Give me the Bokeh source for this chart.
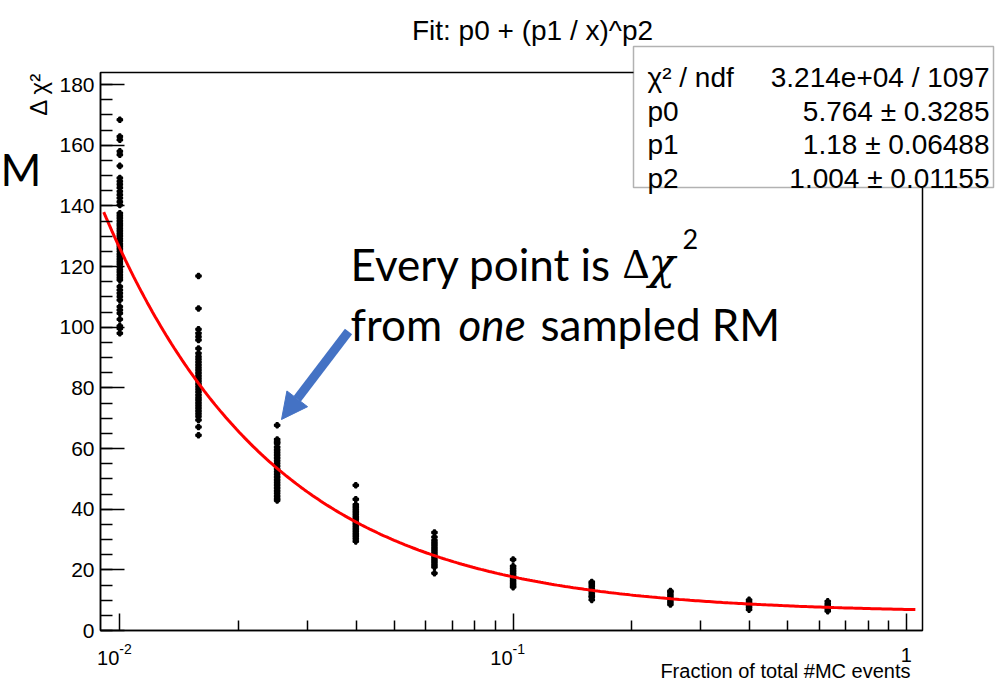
import math
import numpy as np
from bokeh.plotting import figure
from bokeh.layouts import column
from bokeh.models import (Range1d, FixedTicker, SingleIntervalTicker, Label, BoxAnnotation,
                          Arrow, NormalHead, CustomJSTickFormatter, GridBox)
from bokeh.embed import file_html
from bokeh.resources import INLINE

# ---------------- data ----------------
fractions = [0.01, 0.01585, 0.02512, 0.03981, 0.06310, 0.1, 0.1585, 0.2512, 0.3981, 0.6310]

dchi2_f0010 = [168.4, 162.9, 161.8, 158.0, 156.9, 153.2, 149.2, 148.1, 147.1, 146.0, 144.8, 143.7,
               142.6, 141.4, 140.3, 137.6, 136.8, 136.0, 135.1, 134.2, 133.5, 132.6, 131.8, 130.9,
               130.1, 129.2, 128.4, 127.5, 126.7, 125.9, 125.0, 124.1, 123.3, 122.4, 121.6, 120.8,
               119.9, 119.0, 118.2, 117.3, 116.4, 115.6, 113.4, 112.3, 111.2, 110.1, 109.0, 106.8,
               105.7, 104.6, 102.6, 100.4, 99.6, 98.0]
dchi2_f0016 = [116.9, 106.2, 99.3, 98.0, 96.9, 95.8, 93.0, 91.4, 90.3, 89.4, 88.5, 87.6, 86.7, 85.8,
               84.9, 84.0, 83.1, 82.2, 81.3, 80.4, 79.5, 78.6, 77.7, 76.8, 76.0, 75.1, 74.2, 73.3,
               72.4, 71.5, 70.6, 69.4, 67.1, 64.4]
dchi2_f0025 = [67.7, 63.0, 62.2, 61.7, 60.5, 59.6, 58.7, 57.8, 56.9, 56.0, 55.1, 54.2, 53.3, 52.4,
               51.5, 50.6, 49.7, 48.8, 47.9, 47.0, 46.1, 45.2, 44.3, 43.5, 42.9]
dchi2_f0040 = [47.9, 43.3, 41.5, 40.7, 39.9, 39.1, 38.3, 37.5, 36.7, 35.9, 35.1, 34.3, 33.5, 32.7,
               31.9, 31.1, 30.3, 29.4]
dchi2_f0063 = [32.3, 30.8, 29.7, 28.9, 28.1, 27.3, 26.5, 25.7, 24.9, 24.1, 23.3, 22.5, 21.7, 20.9, 18.9]
dchi2_f0100 = [23.4, 21.2, 20.4, 19.6, 18.8, 18.0, 17.2, 16.4, 15.6, 14.9, 14.3]
dchi2_f0158 = [16.0, 15.4, 14.6, 13.8, 13.0, 12.2, 11.4, 11.0, 10.1]
dchi2_f0251 = [13.0, 12.6, 11.8, 11.0, 10.2, 9.4, 8.6]
dchi2_f0398 = [10.1, 9.3, 8.5, 7.7, 6.9]
dchi2_f0631 = [9.6, 8.8, 8.0, 7.2, 6.4]
clusters = [dchi2_f0010, dchi2_f0016, dchi2_f0025, dchi2_f0040, dchi2_f0063,
            dchi2_f0100, dchi2_f0158, dchi2_f0251, dchi2_f0398, dchi2_f0631]

# fit result  p0 + (p1/x)^p2
P0, P1, P2 = 5.764, 1.18, 1.004
fit_range = [0.0091, 1.054]

stat_names = ["\u03c7\u00b2 / ndf", "p0", "p1", "p2"]
stat_values = ["3.214e+04 / 1097", "5.764 \u00b1 0.3285", "1.18 \u00b1 0.06488", "1.004 \u00b1 0.01155"]

y_major_step = 20
x_major = [0.01, 0.1, 1.0]
x_minor = [0.02, 0.03, 0.04, 0.05, 0.06, 0.07, 0.08, 0.09, 0.2, 0.3, 0.4, 0.5, 0.6, 0.7, 0.8, 0.9]
x_tick_texts = [("10", "-2"), ("10", "-1"), ("1", "")]

title_text = "Fit: p0 + (p1 / x)^p2"
x_title = "Fraction of total #MC events"
y_title = "\u0394 \u03c7\u00b2"

# ---------------- geometry ----------------
W, H = 996, 680
FL, FR, FT, FB = 100, 922, 72, 630
XMIN, XMAX = 0.00893, 1.099
YMIN, YMAX = 0.0, 184.0
LX0, LX1 = math.log10(XMIN), math.log10(XMAX)


def px_x(px):
    return 10 ** (LX0 + (px - FL) / (FR - FL) * (LX1 - LX0))


def px_y(py):
    return YMIN + (FB - py) / (FB - FT) * (YMAX - YMIN)


def dx_px(xv):
    return FL + (math.log10(xv) - LX0) / (LX1 - LX0) * (FR - FL)


# ---------------- main plot ----------------
p = figure(width=W, height=H, x_axis_type="log",
           x_range=Range1d(XMIN, XMAX), y_range=Range1d(YMIN, YMAX),
           output_backend="svg", toolbar_location=None,
           min_border_left=FL, min_border_right=W - FR,
           min_border_top=FT, min_border_bottom=H - FB)
p.title.text = ""
p.grid.visible = False
p.background_fill_color = "white"
p.border_fill_color = "white"
p.outline_line_color = "black"
p.outline_line_width = 1.5

xa = p.xaxis[0]
xa.ticker = FixedTicker(ticks=x_major, minor_ticks=x_minor)
xa.formatter = CustomJSTickFormatter(code="return ''")
xa.major_tick_in = 17
xa.major_tick_out = 0
xa.minor_tick_in = 10
xa.minor_tick_out = 0
xa.major_label_text_font_size = "1px"

ya = p.yaxis[0]
ya.ticker = SingleIntervalTicker(interval=y_major_step, num_minor_ticks=4)
ya.major_tick_in = 24
ya.major_tick_out = 0
ya.minor_tick_in = 12
ya.minor_tick_out = 0
ya.major_label_standoff = 6
ya.major_label_text_font = "Liberation Sans"
ya.major_label_text_font_size = "21px"
ya.major_label_text_color = "black"

for ax in (xa, ya):
    ax.axis_line_color = "black"
    ax.axis_line_width = 1.5
    ax.major_tick_line_color = "black"
    ax.major_tick_line_width = 1.5
    ax.minor_tick_line_color = "black"
    ax.minor_tick_line_width = 1.5

xs, ys = [], []
for f, vals in zip(fractions, clusters):
    xs += [f] * len(vals)
    ys += vals
p.scatter(xs, ys, marker="plus", size=5, line_width=1.6, color="black")

xf = np.logspace(math.log10(fit_range[0]), math.log10(fit_range[1]), 300)
yf = P0 + (P1 / xf) ** P2
p.line(xf, yf, line_color="#ff0000", line_width=3)

BLUE = "#4472C4"
p.add_layout(Arrow(end=NormalHead(size=26, fill_color=BLUE, line_color=BLUE),
                   x_start=px_x(348), y_start=px_y(331), x_end=px_x(281), y_end=px_y(419),
                   line_color=BLUE, line_width=9, level="overlay"))

# ---------------- transparent overlay (canvas pixel coordinates) for texts & stats box ----------------
q = figure(width=W, height=H, x_range=Range1d(0, W), y_range=Range1d(H, 0),
           output_backend="svg", toolbar_location=None, title=None,
           x_axis_location=None, y_axis_location=None,
           min_border_left=0, min_border_right=0, min_border_top=0, min_border_bottom=0)
q.grid.visible = False
q.outline_line_color = None
q.background_fill_color = None
q.border_fill_color = None


def lab(text, px, py, size, font="Liberation Sans", align="left", baseline="alphabetic",
        style="normal", color="black", angle=0.0):
    q.add_layout(Label(x=px, y=py, text=text, text_font=font, text_font_size=f"{size}px",
                       text_align=align, text_baseline=baseline, text_font_style=style,
                       text_color=color, angle=angle))


# stats box
q.add_layout(BoxAnnotation(left=633, right=993, top=46, bottom=187,
                           fill_color="white", fill_alpha=1.0, line_color="black",
                           line_width=1.5, level="underlay"))
row_base = [77, 111, 144, 178]
for name, val, b in zip(stat_names, stat_values, row_base):
    lab(name, 647, b, 28)
    lab(val, 989, b, 28, align="right")

lab(title_text, 532, 30, 28, align="center")
lab(y_title, 38, 72, 24, align="right", angle=math.pi / 2)
lab(x_title, 910, 670, 20, align="right")

for tv, (base, expo) in zip(x_major, x_tick_texts):
    tx = dx_px(tv)
    if expo:
        lab(base, tx - 0.5, 657, 20, align="right")
        lab(expo, tx - 0.5, 648, 14, align="left")
    else:
        lab(base, tx, 654, 20, align="center")

# slide annotation texts
lab("M", 0, 168, 44, font="Lato")
lab("Every point is", 350, 263, 44, font="Lato")
lab("\u0394", 622, 263, 42, font="Liberation Serif")
lab("\u03c7", 648, 263, 44, font="DejaVu Serif", style="italic")
lab("2", 682, 238, 27, font="Lato")
lab("from", 350, 323, 44, font="Lato")
lab("one", 458, 323, 44, font="Lato", style="italic")
lab("sampled RM", 540, 323, 44, font="Lato")

if "frame_align" in q.properties():
    p.frame_align = False
    q.frame_align = False
    layout = GridBox(children=[(p, 0, 0), (q, 0, 0)], width=W, height=H)
else:
    q.margin = (-H, 0, 0, 0)
    layout = column(p, q)

open("out.html", "w").write(file_html(layout, INLINE))
